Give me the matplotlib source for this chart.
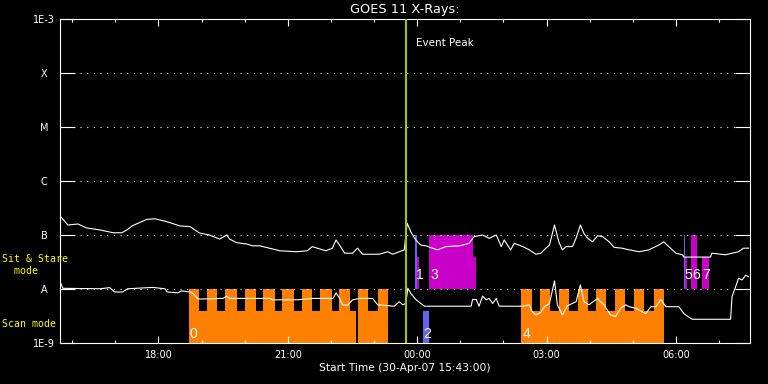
import matplotlib
matplotlib.use('Agg')
import matplotlib.pyplot as plt
from matplotlib.ticker import FixedLocator, MultipleLocator, FuncFormatter

# GOES 11 X-ray flux, 30-Apr-07 15:43 to 1-May-07 07:43 (times HH:MM)
upper_t = ['15:44', '15:54', '16:08', '16:20', '16:39', '16:57', '17:09', '17:16', '17:24', '17:44',
           '17:55', '18:12', '18:30', '18:44', '18:57', '19:11', '19:25', '19:35', '19:39', '19:49',
           '20:03', '20:11', '20:21', '20:49', '21:12', '21:27', '21:34', '21:41', '21:53', '22:02',
           '22:07', '22:12', '22:19', '22:30', '22:37', '22:44', '23:07', '23:19', '23:26', '23:35',
           '23:42', '23:46', '23:51', '23:58', '00:05', '00:12', '00:28', '00:40', '00:59', '01:12',
           '01:19', '01:31', '01:40', '01:50', '01:57', '02:01', '02:10', '02:15', '02:27', '02:36',
           '02:45', '02:52', '02:59', '03:04', '03:11', '03:17', '03:22', '03:27', '03:36', '03:41',
           '03:47', '03:52', '03:57', '04:04', '04:11', '04:18', '04:27', '04:34', '04:45', '04:55',
           '05:09', '05:22', '05:36', '05:43', '05:50', '06:00', '06:09', '06:11', '06:48', '06:50',
           '07:09', '07:18', '07:27', '07:34', '07:41']
upper_f = [2.18e-7, 1.53e-7, 1.60e-7, 1.35e-7, 1.24e-7, 1.10e-7, 1.10e-7, 1.24e-7, 1.49e-7, 1.95e-7,
           2.00e-7, 1.76e-7, 1.47e-7, 1.43e-7, 1.09e-7, 1.00e-7, 8.4e-8, 1.0e-7, 8.4e-8, 7.2e-8,
           6.8e-8, 6.3e-8, 6.3e-8, 5.1e-8, 4.9e-8, 5.1e-8, 6.1e-8, 5.7e-8, 5.1e-8, 5.7e-8,
           8.1e-8, 6.5e-8, 4.6e-8, 4.6e-8, 5.7e-8, 4.4e-8, 4.4e-8, 4.9e-8, 4.4e-8, 4.9e-8,
           5.3e-8, 1.65e-7, 1.15e-7, 8.1e-8, 6.5e-8, 6.3e-8, 5.3e-8, 6.1e-8, 6.3e-8, 7.0e-8,
           9.3e-8, 1.0e-7, 8.7e-8, 1.0e-7, 6.1e-8, 8.1e-8, 5.3e-8, 7.0e-8, 6.1e-8, 5.3e-8,
           4.4e-8, 4.6e-8, 5.7e-8, 6.5e-8, 1.53e-7, 7.5e-8, 5.3e-8, 6.1e-8, 6.1e-8, 8.7e-8,
           1.53e-7, 1.07e-7, 8.7e-8, 7.5e-8, 9.7e-8, 9.3e-8, 7.5e-8, 5.9e-8, 5.7e-8, 5.3e-8,
           4.9e-8, 5.3e-8, 6.5e-8, 7.5e-8, 6.1e-8, 4.6e-8, 4.3e-8, 3.9e-8, 3.9e-8, 4.6e-8,
           4.3e-8, 4.6e-8, 4.9e-8, 5.7e-8, 5.7e-8]

lower_t = ['15:44', '15:47', '16:39', '16:52', '16:59', '17:10', '17:17', '17:52', '18:09', '18:12',
           '18:27', '18:32', '18:44', '18:48', '18:55', '19:30', '19:35', '19:39', '20:35', '20:39',
           '21:12', '21:35', '22:03', '22:07', '22:12', '22:16', '22:23', '22:30', '22:40', '22:58',
           '23:05', '23:28', '23:35', '23:40', '23:44', '23:47', '23:51', '23:58', '00:05', '00:10',
           '01:15', '01:17', '01:22', '01:26', '01:31', '01:36', '01:40', '01:45', '01:50', '01:54',
           '02:27', '02:36', '02:40', '02:45', '02:52', '02:57', '03:04', '03:11', '03:15', '03:22',
           '03:29', '03:41', '03:47', '03:52', '03:59', '04:11', '04:15', '04:20', '04:29', '04:36',
           '04:43', '04:50', '04:55', '05:04', '05:18', '05:25', '05:32', '05:39', '05:46', '06:04',
           '06:11', '06:18', '06:23', '07:16', '07:18', '07:23', '07:27', '07:32', '07:37', '07:41']
lower_f = [1.28e-8, 1.03e-8, 1.01e-8, 1.06e-8, 8.8e-9, 8.8e-9, 1.01e-8, 1.07e-8, 1.01e-8, 8.8e-9,
           8.5e-9, 9.2e-9, 8.8e-9, 8.3e-9, 6.5e-9, 6.7e-9, 7.4e-9, 6.7e-9, 6.7e-9, 6.3e-9,
           6.3e-9, 6.7e-9, 6.7e-9, 8.5e-9, 6.7e-9, 5.1e-9, 5.0e-9, 6.3e-9, 6.7e-9, 6.7e-9,
           5.1e-9, 4.8e-9, 5.8e-9, 5.1e-9, 5.4e-9, 1.03e-8, 8.3e-9, 6.4e-9, 5.4e-9, 4.8e-9,
           4.8e-9, 6.4e-9, 6.4e-9, 4.8e-9, 7.4e-9, 6.3e-9, 6.7e-9, 5.4e-9, 6.7e-9, 4.8e-9,
           4.8e-9, 5.1e-9, 3.8e-9, 3.3e-9, 3.7e-9, 4.7e-9, 5.4e-9, 1.41e-8, 5.1e-9, 3.3e-9,
           4.9e-9, 5.8e-9, 1.19e-8, 5.8e-9, 5.1e-9, 6.7e-9, 5.8e-9, 5.1e-9, 3.3e-9, 3.1e-9,
           4.4e-9, 5.1e-9, 4.7e-9, 4.4e-9, 3.5e-9, 4.7e-9, 4.7e-9, 6.4e-9, 4.7e-9, 4.7e-9,
           3.5e-9, 3.0e-9, 2.75e-9, 2.75e-9, 7.2e-9, 1.1e-8, 1.58e-8, 1.47e-8, 1.8e-8, 1.69e-8]

# instrument mode timeline: level after each edge (1 full, 0.6 reduced, 0 none)
scan_edges = ['18:42', '18:56', '19:07', '19:22', '19:33', '19:49', '20:00', '20:15', '20:26', '20:42',
              '20:52', '21:08', '21:19', '21:34', '21:45', '22:01', '22:11', '22:26', '22:35', '22:38',
              '22:52', '23:05', '23:19', '00:08', '00:16', '02:25', '02:39', '02:51', '03:05', '03:17',
              '03:31', '03:44', '03:58', '04:09', '04:23', '04:35', '04:49', '05:02', '05:16', '05:29',
              '05:43']
scan_level = [1, .6, 1, .6, 1, .6, 1, .6, 1, .6,
              1, .6, 1, .6, 1, .6, 1, .6, 0, 1,
              .6, 1, 0, .6, 0, 1, .6, 1, .6, 1,
              .6, 1, .6, 1, .6, 1, .6, 1, .6, 1,
              0]
scan_colour = ['o'] * 23 + ['b', 'b'] + ['o'] * 16

sit_edges = ['23:57', '00:00', '00:03', '00:17', '01:18', '01:22', '06:11', '06:13', '06:16', '06:21',
             '06:29', '06:36', '06:46']
sit_level = [1, .6, 0, 1, .6, 0, 1, .6, 0, 1, 0, .6, 0]
sit_colour = ['b', 'm', 'm', 'm', 'm', 'm', 'b', 'm', 'm', 'm', 'm', 'm', 'm']

obs_num = ['0', '1', '2', '3', '4', '5', '6', '7']
obs_mode = ['scan', 'sit', 'scan', 'sit', 'scan', 'sit', 'sit', 'sit']
obs_start = ['18:42', '23:57', '00:08', '00:17', '02:25', '06:11', '06:21', '06:36']

event_peak = '23:45'
t_start = '15:43'
class_labels = ['1E-9', 'A', 'B', 'C', 'M', 'X', '1E-3']
class_values = [1e-9, 1e-8, 1e-7, 1e-6, 1e-5, 1e-4, 1e-3]

palette = {'o': '#FF8000', 'b': '#6464F0', 'm': '#C800C8'}
mono = ['DejaVu Sans Mono']


def hrs(s):
    h, m = map(int, s.split(':'))
    v = h + m / 60.0
    return v + 24 if v < 12 else v


plt.rcParams['font.family'] = 'DejaVu Sans'
fig = plt.figure(figsize=(7.68, 3.84), dpi=100, facecolor='black')
ax = fig.add_axes([60 / 768, 41 / 384, 690 / 768, 324 / 384])
ax.set_facecolor('black')

x0 = hrs(t_start)
ax.set_xlim(x0, x0 + 16)
ax.set_yscale('log')
ax.set_ylim(1e-9, 1e-3)

# mode bands: scan in the bottom decade, sit & stare in the next one
band_h = 1.0 / 6


def draw_band(edges, levels, colours, base):
    for i in range(len(edges) - 1):
        if levels[i] > 0:
            ax.axvspan(hrs(edges[i]), hrs(edges[i + 1]), ymin=base,
                       ymax=base + levels[i] * band_h, color=palette[colours[i]],
                       lw=0, zorder=1)


draw_band(scan_edges, scan_level, scan_colour, 0.0)
draw_band(sit_edges, sit_level, sit_colour, band_h)

for num, mode, st in zip(obs_num, obs_mode, obs_start):
    base = 0.0154 if mode == 'scan' else 0.1975
    ax.annotate(num, xy=(hrs(st), base), xycoords=('data', 'axes fraction'),
                xytext=(0.5, 0), textcoords='offset points', color='white',
                fontsize=10, family='Liberation Sans', va='baseline', ha='left', zorder=4)

# dotted class lines
for v in class_values[1:-1]:
    ax.axhline(v, color='white', lw=0.8, ls=(0, (1, 5)), zorder=2)

# light curves
ax.plot([hrs(t) for t in upper_t], upper_f, color='white', lw=0.8, zorder=3)
ax.plot([hrs(t) for t in lower_t], lower_f, color='white', lw=0.8, zorder=3)

# event peak marker
ev = hrs(event_peak)
ax.axvline(ev, color='#A0C800', lw=1.5, zorder=3)
ax.annotate('Event Peak', xy=(ev, 0.926), xycoords=('data', 'axes fraction'),
            xytext=(7, 0), textcoords='offset points', color='white',
            fontsize=7.5, va='center', ha='left')

# axes styling
for sp in ax.spines.values():
    sp.set_color('white')
    sp.set_linewidth(0.8)

ax.xaxis.set_major_locator(MultipleLocator(3))
ax.xaxis.set_minor_locator(MultipleLocator(1))
ax.xaxis.set_major_formatter(FuncFormatter(lambda v, p: '%02d:00' % (int(round(v)) % 24)))
ax.tick_params(axis='x', which='both', direction='in', top=True, bottom=True,
               colors='white', labelsize=7, pad=5)
ax.tick_params(axis='x', which='major', length=5, width=0.8)
ax.tick_params(axis='x', which='minor', length=2.5, width=0.8)

ax.yaxis.set_major_locator(FixedLocator(class_values))
ax.yaxis.set_minor_locator(FixedLocator([]))
ax.set_yticklabels(class_labels)
ax.tick_params(axis='y', which='major', direction='in', left=True, right=True,
               length=10.8, width=0.8, colors='white', labelsize=7, pad=11.5)
for lab in ax.get_yticklabels():
    lab.set_ha('center')

fig.text(405 / 768, 1 - 10 / 384, 'GOES 11 X-Rays:', color='white', fontsize=9.3,
         ha='center', va='center')
fig.text(405 / 768, 1 - 368 / 384, 'Start Time (30-Apr-07 15:43:00)', color='white',
         fontsize=7.7, ha='center', va='center')

fig.text(2 / 768, 1 - 259 / 384, 'Sit & Stare', color='yellow', fontsize=7.1,
         family=mono, ha='left', va='center')
fig.text(2 / 768, 1 - 271 / 384, '  mode', color='yellow', fontsize=7.1,
         family=mono, ha='left', va='center')
fig.text(2 / 768, 1 - 324 / 384, 'Scan mode', color='yellow', fontsize=7.1,
         family=mono, ha='left', va='center')

fig.savefig('out.png', dpi=100, facecolor='black')
plt.close(fig)
